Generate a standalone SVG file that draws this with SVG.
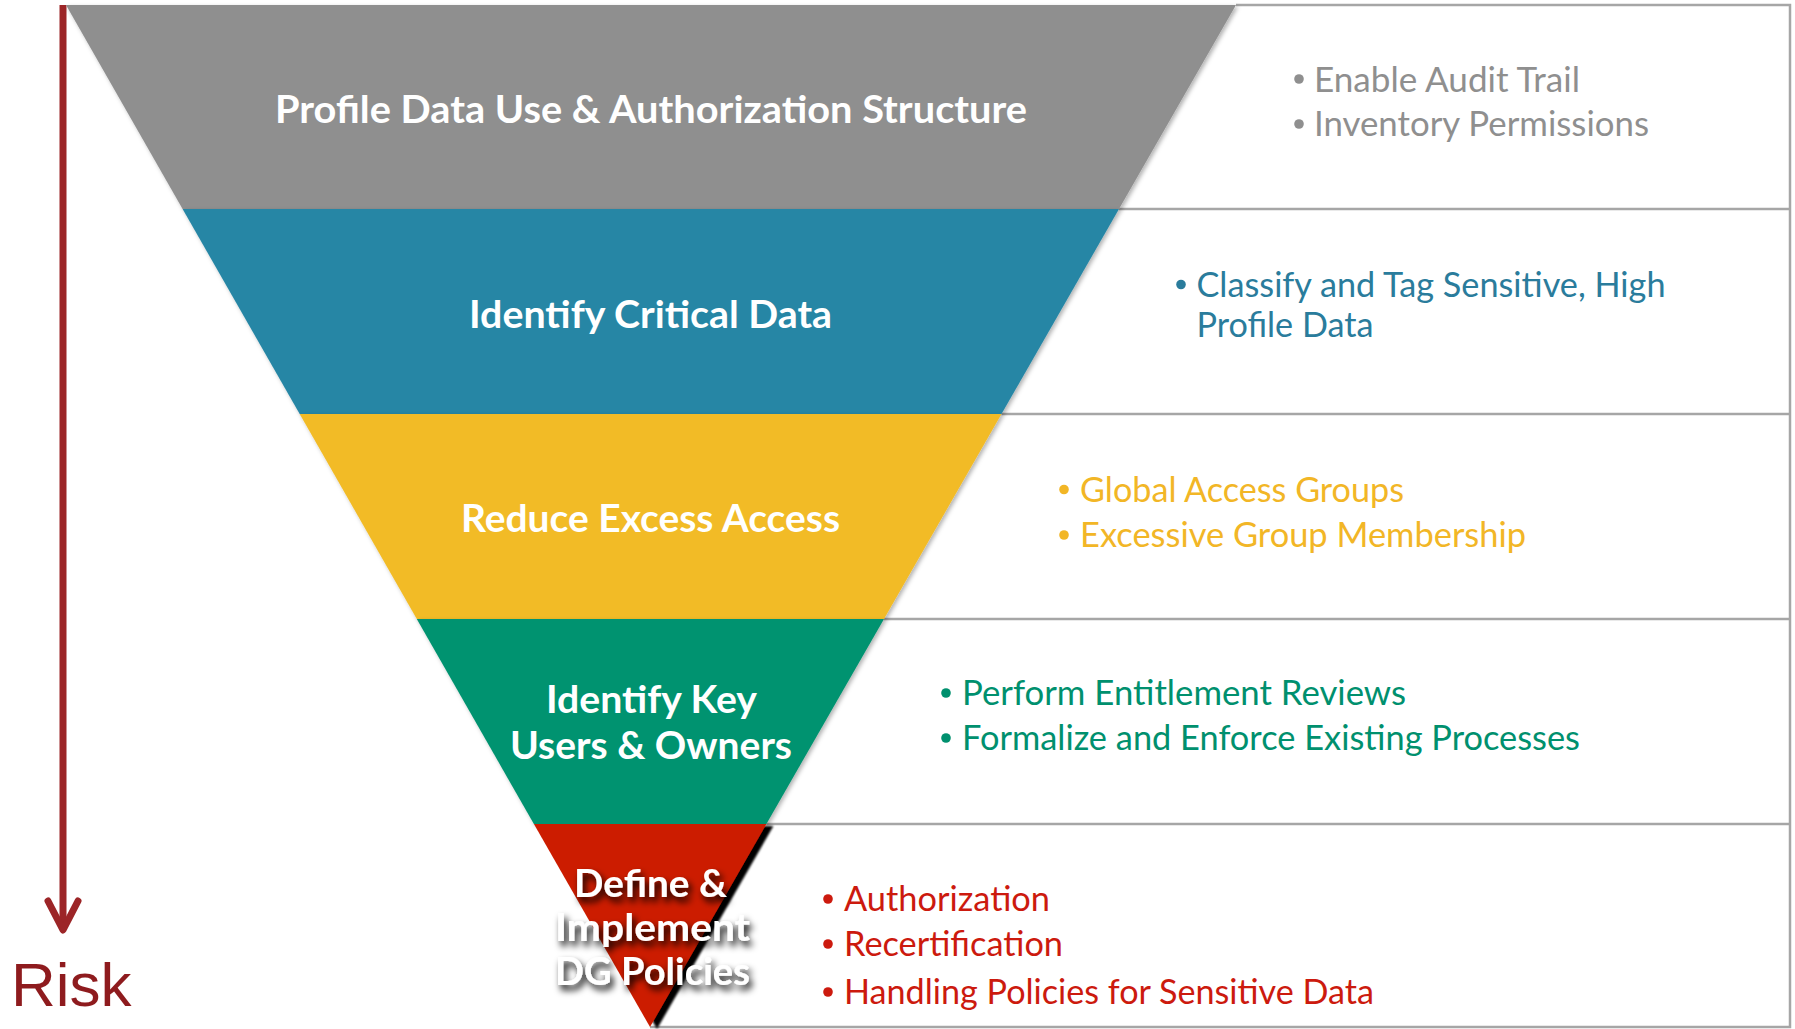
<svg xmlns="http://www.w3.org/2000/svg" width="1795" height="1029" viewBox="0 0 1795 1029">
<defs>
<style>
.title{font-family:Lato,"Open Sans","Liberation Sans",sans-serif;font-weight:700;font-size:38.5px;fill:#ffffff;text-anchor:middle}
.item{font-family:Lato,"Open Sans","Liberation Sans",sans-serif;font-weight:400;font-size:34px}
.box{stroke:#a6a6a6;stroke-width:2.5;fill:none}
.risk{font-family:"Liberation Sans",Arial,sans-serif;font-size:62px;fill:#8e1b1e}
</style>
<filter id="soft" x="-5%" y="-5%" width="110%" height="115%">
<feDropShadow dx="2" dy="2" stdDeviation="2" flood-color="#000" flood-opacity="0.3"/>
</filter>
<filter id="hard" x="-20%" y="-10%" width="140%" height="120%">
<feDropShadow dx="7" dy="2" stdDeviation="1.2" flood-color="#000" flood-opacity="1"/>
</filter>
<filter id="txtsh" x="-10%" y="-30%" width="130%" height="180%">
<feGaussianBlur in="SourceAlpha" stdDeviation="3.5"/>
<feOffset dx="3" dy="5" result="b"/>
<feFlood flood-color="#000" flood-opacity="1"/>
<feComposite in2="b" operator="in"/>
<feMerge><feMergeNode/><feMergeNode in="SourceGraphic"/></feMerge>
</filter>
</defs>
<rect width="1795" height="1029" fill="#ffffff"/>

<g id="connectors">
<g id="boxes" class="box">
<polyline points="1236,5 1790,5 1790,1027 650,1027"/>
<line x1="1119" y1="209" x2="1790" y2="209"/>
<line x1="1001.5" y1="414" x2="1790" y2="414"/>
<line x1="884" y1="619" x2="1790" y2="619"/>
<line x1="766.4" y1="824" x2="1790" y2="824"/>
</g>
<g id="risk-arrow" stroke="#9c2527" stroke-width="7" fill="none" stroke-linecap="round" stroke-linejoin="round">
<line x1="63" y1="5" x2="63" y2="928" stroke-linecap="butt"/>
<polyline points="48,901 63,930 78,901"/>
</g>
</g>

<g id="band1">
<polygon points="66,5 1236,5 1119,209 182.6,209" fill="#8f8f8f" filter="url(#soft)"/>
<text class="title" x="651" y="122.5" textLength="752" lengthAdjust="spacingAndGlyphs">Profile Data Use &amp; Authorization Structure</text>
<g fill="#8f8f8f">
<circle cx="1299" cy="79" r="4.8"/>
<circle cx="1299" cy="124" r="4.8"/>
<text class="item" x="1314" y="91.5" textLength="266" lengthAdjust="spacingAndGlyphs">Enable Audit Trail</text>
<text class="item" x="1314" y="136" textLength="335" lengthAdjust="spacingAndGlyphs">Inventory Permissions</text>
</g>
</g>

<g id="band2">
<polygon points="182.6,209 1119,209 1001.5,414 299.7,414" fill="#2886a5" filter="url(#soft)"/>
<text class="title" x="650.5" y="327.5" textLength="363" lengthAdjust="spacingAndGlyphs">Identify Critical Data</text>
<g fill="#2a7c9c">
<circle cx="1181" cy="284.5" r="4.8"/>
<text class="item" x="1196.5" y="296.5" textLength="469" lengthAdjust="spacingAndGlyphs">Classify and Tag Sensitive, High</text>
<text class="item" x="1196.5" y="336.5" textLength="177" lengthAdjust="spacingAndGlyphs">Profile Data</text>
</g>
</g>

<g id="band3">
<polygon points="299.7,414 1001.5,414 884,619 416.8,619" fill="#f2bb27" filter="url(#soft)"/>
<text class="title" x="650.5" y="532" textLength="379" lengthAdjust="spacingAndGlyphs">Reduce Excess Access</text>
<g fill="#f2b626">
<circle cx="1064" cy="489.5" r="4.8"/>
<circle cx="1064" cy="535" r="4.8"/>
<text class="item" x="1080" y="501.5" textLength="324" lengthAdjust="spacingAndGlyphs">Global Access Groups</text>
<text class="item" x="1080" y="547" textLength="446" lengthAdjust="spacingAndGlyphs">Excessive Group Membership</text>
</g>
</g>

<g id="band4">
<polygon points="416.8,619 884,619 766.4,824 533.9,824" fill="#009370" filter="url(#soft)"/>
<text class="title" x="651.5" y="713" textLength="211" lengthAdjust="spacingAndGlyphs">Identify Key</text>
<text class="title" x="651" y="759" textLength="282" lengthAdjust="spacingAndGlyphs">Users &amp; Owners</text>
<g fill="#00906e">
<circle cx="946" cy="693" r="4.8"/>
<circle cx="946" cy="738" r="4.8"/>
<text class="item" x="962" y="705" textLength="444" lengthAdjust="spacingAndGlyphs">Perform Entitlement Reviews</text>
<text class="item" x="962" y="750" textLength="618" lengthAdjust="spacingAndGlyphs">Formalize and Enforce Existing Processes</text>
</g>
</g>

<g id="band5">
<polygon points="533.9,824 766.4,824 650,1027" fill="#cc1f00" filter="url(#hard)"/>
<g filter="url(#txtsh)">
<text class="title" x="650.5" y="896.5" textLength="153" lengthAdjust="spacingAndGlyphs">Define &amp;</text>
<text class="title" x="652.5" y="941" textLength="195" lengthAdjust="spacingAndGlyphs">Implement</text>
<text class="title" x="652.5" y="985" textLength="195" lengthAdjust="spacingAndGlyphs">DG Policies</text>
</g>
<g fill="#cc1a0e">
<circle cx="828" cy="899" r="4.8"/>
<circle cx="828" cy="944" r="4.8"/>
<circle cx="828" cy="992" r="4.8"/>
<text class="item" x="844" y="911" textLength="206" lengthAdjust="spacingAndGlyphs">Authorization</text>
<text class="item" x="844" y="956" textLength="219" lengthAdjust="spacingAndGlyphs">Recertification</text>
<text class="item" x="844" y="1004" textLength="530" lengthAdjust="spacingAndGlyphs">Handling Policies for Sensitive Data</text>
</g>
</g>

<g id="risk-label">
<text class="risk" x="11" y="1006">Risk</text>
</g>
</svg>
